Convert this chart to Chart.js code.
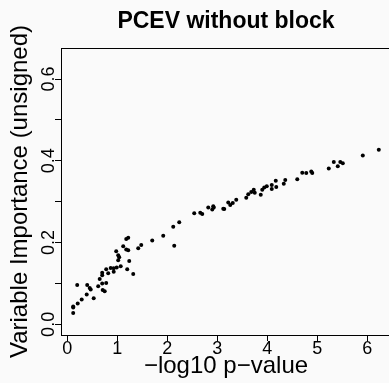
<!DOCTYPE html>
<html>
<head>
<meta charset="utf-8">
<script src="https://cdn.jsdelivr.net/npm/chart.js@4"></script>
<style>
    html, body { margin: 0; padding: 0; background: #fafafa; overflow: hidden; }
    #wrap { position: absolute; left: 0; top: 0; width: 400px; height: 383px; }
</style>
</head>
<body>
<div id="wrap"><canvas id="pcevChart" width="400" height="383"></canvas></div>
<script>
const chartTitle = "PCEV without block";
const xTitle = "\u2212log10 p\u2212value";
const yTitle = "Variable Importance (unsigned)";

// -log10 p-value of each variable
const logP = [
    0.12, 0.12, 0.12, 0.21, 0.29, 0.20, 0.39, 0.40, 0.45, 0.47,
    0.53, 0.62, 0.65, 0.70, 0.70, 0.70, 0.71, 0.75, 0.78, 0.78,
    0.82, 0.87, 0.93, 0.93, 0.99, 0.98, 1.02, 1.02, 1.04, 1.07,
    1.12, 1.18, 1.22, 1.18, 1.22, 1.24, 1.20, 1.32, 1.42, 1.48,
    1.70, 1.92, 2.14, 2.12, 2.24, 2.54, 2.66, 2.70, 2.82, 2.90,
    2.93, 2.92, 3.12, 3.14, 3.22, 3.26, 3.31, 3.38, 3.58, 3.62,
    3.68, 3.73, 3.75, 3.87, 3.90, 3.94, 3.99, 4.09, 4.09, 4.17,
    4.18, 4.33, 4.36, 4.60, 4.70, 4.78, 4.88, 4.90, 5.23, 5.33,
    5.41, 5.46, 5.51, 5.91, 6.23
];

// variable importance (unsigned)
const importance = [
    0.028, 0.041, 0.044, 0.051, 0.061, 0.096, 0.073, 0.096, 0.089, 0.085,
    0.064, 0.093, 0.111, 0.100, 0.120, 0.126, 0.084, 0.081, 0.101, 0.135,
    0.125, 0.138, 0.129, 0.137, 0.139, 0.179, 0.157, 0.169, 0.164, 0.142,
    0.191, 0.209, 0.212, 0.183, 0.181, 0.155, 0.135, 0.123, 0.186, 0.194,
    0.205, 0.217, 0.192, 0.239, 0.250, 0.272, 0.273, 0.270, 0.286, 0.281,
    0.286, 0.289, 0.283, 0.282, 0.298, 0.292, 0.297, 0.305, 0.310, 0.318,
    0.324, 0.329, 0.322, 0.317, 0.329, 0.335, 0.338, 0.331, 0.341, 0.351,
    0.336, 0.344, 0.353, 0.355, 0.371, 0.370, 0.374, 0.370, 0.381, 0.397,
    0.387, 0.397, 0.394, 0.413, 0.427
];

const xTicks = [0, 1, 2, 3, 4, 5, 6];
const yTicks = [0, 0.1, 0.2, 0.3, 0.4, 0.5, 0.6];
const yLabels = ["0.0", "", "0.2", "", "0.4", "", "0.6"];

const points = logP.map((x, i) => ({ x: x, y: importance[i] }));

// R style box, titles and rotated tick labels
const rDecor = {
    id: 'rDecor',
    beforeDraw(chart) {
        const c = chart.ctx;
        c.save();
        c.fillStyle = '#fafafa';
        c.fillRect(0, 0, chart.width, chart.height);
        c.restore();
    },
    afterDraw(chart) {
        const c = chart.ctx;
        const area = chart.chartArea;
        const xs = chart.scales.x;
        const ys = chart.scales.y;
        const mid = (area.left + area.right) / 2;

        c.save();
        c.strokeStyle = '#000';
        c.lineWidth = 1;
        c.strokeRect(Math.round(area.left) + 0.5, Math.round(area.top) + 0.5,
            Math.round(area.right - area.left), Math.round(area.bottom - area.top));

        c.fillStyle = '#000';
        c.textAlign = 'center';
        c.textBaseline = 'alphabetic';

        c.font = 'bold 23px "Liberation Sans", Arial, sans-serif';
        c.fillText(chartTitle, mid, 28);

        c.font = '18px "Liberation Sans", Arial, sans-serif';
        xTicks.forEach(v => {
            c.fillText(String(v), xs.getPixelForValue(v), 354);
        });

        c.font = '24px "Liberation Sans", Arial, sans-serif';
        c.fillText(xTitle, mid, 373);

        c.font = '18px "Liberation Sans", Arial, sans-serif';
        yTicks.forEach((v, i) => {
            if (!yLabels[i]) return;
            c.save();
            c.translate(53.5, ys.getPixelForValue(v));
            c.rotate(-Math.PI / 2);
            c.fillText(yLabels[i], 0, 0);
            c.restore();
        });

        c.font = '24px "Liberation Sans", Arial, sans-serif';
        c.save();
        c.translate(26.5, (area.top + area.bottom) / 2);
        c.rotate(-Math.PI / 2);
        c.fillText(yTitle, 0, 0);
        c.restore();
        c.restore();
    }
};

new Chart(document.getElementById('pcevChart'), {
    type: 'scatter',
    data: {
        datasets: [{
            data: points,
            pointRadius: 2,
            pointHoverRadius: 2,
            backgroundColor: '#000',
            borderWidth: 0
        }]
    },
    options: {
        responsive: false,
        animation: false,
        devicePixelRatio: 1,
        layout: { padding: { left: 0, top: 48, right: 9, bottom: 0 } },
        plugins: {
            legend: { display: false },
            tooltip: { enabled: false }
        },
        scales: {
            x: {
                type: 'linear',
                min: -0.124,
                max: 6.474,
                afterBuildTicks: s => { s.ticks = xTicks.map(v => ({ value: v })); },
                afterFit: s => { s.height = 48; },
                ticks: { display: false },
                border: { display: false },
                grid: {
                    drawOnChartArea: false,
                    drawTicks: true,
                    tickLength: 6,
                    color: '#000',
                    lineWidth: 1
                }
            },
            y: {
                type: 'linear',
                min: -0.026,
                max: 0.676,
                afterBuildTicks: s => { s.ticks = yTicks.map(v => ({ value: v })); },
                afterFit: s => { s.width = 61; },
                ticks: { display: false },
                border: { display: false },
                grid: {
                    drawOnChartArea: false,
                    drawTicks: true,
                    tickLength: 6,
                    color: '#000',
                    lineWidth: 1
                }
            }
        }
    },
    plugins: [rDecor]
});
</script>
</body>
</html>
